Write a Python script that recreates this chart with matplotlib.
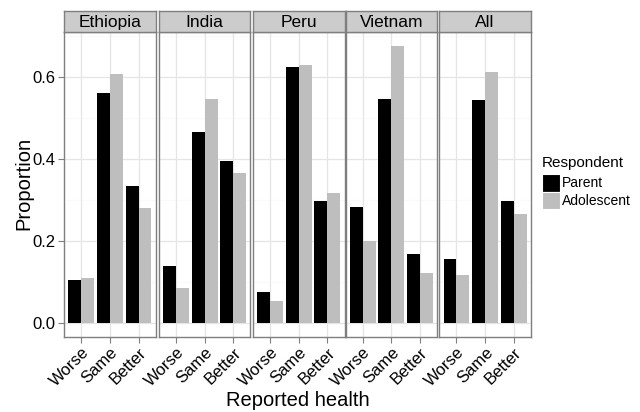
import matplotlib
matplotlib.use("Agg")
import matplotlib.pyplot as plt
from matplotlib.patches import Rectangle
import numpy as np

plt.rcParams['font.family'] = ['Liberation Sans', 'DejaVu Sans']

countries = ["Ethiopia", "India", "Peru", "Vietnam", "All"]
health = ["Worse", "Same", "Better"]
respondents = ["Parent", "Adolescent"]
parent = {
    "Ethiopia": [0.104, 0.561, 0.335],
    "India":    [0.138, 0.466, 0.395],
    "Peru":     [0.075, 0.626, 0.298],
    "Vietnam":  [0.284, 0.546, 0.169],
    "All":      [0.157, 0.544, 0.298],
}
adolescent = {
    "Ethiopia": [0.109, 0.609, 0.281],
    "India":    [0.085, 0.548, 0.366],
    "Peru":     [0.053, 0.629, 0.318],
    "Vietnam":  [0.201, 0.677, 0.121],
    "All":      [0.116, 0.614, 0.267],
}
colors = ["#000000", "#BEBEBE"]
yticks = [0.0, 0.2, 0.4, 0.6]

W, H = 640, 412
fig = plt.figure(figsize=(W / 100, H / 100), dpi=100)

def fx(px):
    return px / W

def fy(py):
    return 1 - py / H

lefts = [64, 158.7, 252.7, 345.5, 439.2]
pw = 91.8
top, bottom = 32.0, 336.7
strip_top = 11.3

ymax_all = max(max(v) for v in list(parent.values()) + list(adolescent.values()))
ylo, yhi = -0.05 * ymax_all, ymax_all * 1.05
x = np.arange(1, len(health) + 1)
bw = 0.45

for i, c in enumerate(countries):
    ax = fig.add_axes([fx(lefts[i]), fy(bottom), fx(pw), (bottom - top) / H])
    ax.set_xlim(0.4, 3.6)
    ax.set_ylim(ylo, yhi)
    for yy in [0.1, 0.3, 0.5, 0.7]:
        ax.axhline(yy, color="#FAFAFA", lw=0.8, zorder=0)
    for yy in yticks:
        ax.axhline(yy, color="#E5E5E5", lw=0.9, zorder=0)
    for xx in x:
        ax.axvline(xx, color="#E5E5E5", lw=0.9, zorder=0)
    ax.bar(x - bw / 2, parent[c], width=bw, color=colors[0], zorder=2)
    ax.bar(x + bw / 2, adolescent[c], width=bw, color=colors[1], zorder=2)
    for s in ax.spines.values():
        s.set_color("#7F7F7F")
        s.set_linewidth(1.0)
    ax.set_xticks(x)
    ax.set_xticklabels(health, rotation=45, ha="right", rotation_mode="anchor",
                       fontsize=12, color="black")
    ax.tick_params(axis="x", length=4, color="#7F7F7F", pad=2)
    if i == 0:
        ax.set_yticks(yticks)
        ax.set_yticklabels([f"{v:.1f}" for v in yticks], fontsize=12, color="black")
        ax.tick_params(axis="y", length=4, color="#7F7F7F", pad=2)
    else:
        ax.set_yticks([])
    # strip header
    sax = fig.add_axes([fx(lefts[i]), fy(top), fx(pw), (top - strip_top) / H])
    sax.set_xticks([])
    sax.set_yticks([])
    sax.set_facecolor("#CCCCCC")
    for s in sax.spines.values():
        s.set_color("#7F7F7F")
        s.set_linewidth(1.0)
    sax.text(0.5, 0.45, c, ha="center", va="center", fontsize=12.5,
             transform=sax.transAxes)

fig.text(fx(24), fy(183), "Proportion", rotation=90, ha="center", va="center",
         fontsize=14.5)
fig.text(fx(297.5), fy(401), "Reported health", ha="center", va="center",
         fontsize=14.5)

# legend
fig.text(fx(542), fy(163), "Respondent", ha="left", va="center", fontsize=11)
key = 17.7
for j, (lab, col) in enumerate(zip(respondents, colors)):
    ktop = 174 + j * key
    fig.patches.append(Rectangle((fx(542), fy(ktop + key)), fx(key), key / H,
                                 transform=fig.transFigure, facecolor=col,
                                 edgecolor="white", lw=0.8))
    fig.text(fx(561.5), fy(ktop + key / 2), lab, ha="left", va="center",
             fontsize=10)

fig.savefig("out.png", dpi=100, facecolor="white")
